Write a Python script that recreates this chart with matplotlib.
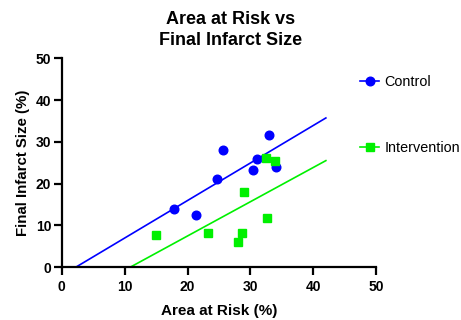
import numpy as np
import matplotlib
matplotlib.use("Agg")
import matplotlib.pyplot as plt
from matplotlib.lines import Line2D

plt.rcParams['font.family'] = ['Liberation Sans', 'DejaVu Sans']

title = "Area at Risk vs\nFinal Infarct Size"
xlabel = "Area at Risk (%)"
ylabel = "Final Infarct Size (%)"
xticks = [0, 10, 20, 30, 40, 50]
yticks = [0, 10, 20, 30, 40, 50]

control_x = [17.9, 21.4, 24.7, 25.7, 30.4, 31.1, 33.0, 34.1]
control_y = [14.0, 12.4, 21.0, 28.0, 23.2, 25.8, 31.7, 23.9]
interv_x = [15.0, 23.3, 28.0, 28.7, 29.0, 32.5, 32.7, 33.9]
interv_y = [7.7, 8.2, 6.0, 8.2, 18.0, 26.2, 11.7, 25.5]
fit_xmax = 42.0

blue = '#0000ff'
green = '#00f000'

fig = plt.figure(figsize=(4.61, 3.2), dpi=100)
ax = fig.add_axes([0.134, 0.165, 0.682, 0.653])

def fit_line(x, y, color):
    slope, intercept = np.polyfit(x, y, 1)
    x0 = -intercept / slope
    xs = np.array([x0, fit_xmax])
    ax.plot(xs, slope * xs + intercept, color=color, lw=1.2, zorder=2)

fit_line(control_x, control_y, blue)
fit_line(interv_x, interv_y, green)

ax.plot(control_x, control_y, 'o', color=blue, ms=6.2, zorder=3, clip_on=False)
ax.plot(interv_x, interv_y, 's', color=green, ms=5.8, zorder=3, clip_on=False)

ax.set_xlim(0, 50)
ax.set_ylim(0, 50)
ax.set_xticks(xticks)
ax.set_yticks(yticks)
for s in ['top', 'right']:
    ax.spines[s].set_visible(False)
for s in ['left', 'bottom']:
    ax.spines[s].set_linewidth(1.6)
ax.tick_params(axis='x', width=1.6, length=5.5, labelsize=10, pad=4)
ax.tick_params(axis='y', width=1.6, length=6, labelsize=10, pad=1.5)
for lbl in ax.get_xticklabels() + ax.get_yticklabels():
    lbl.set_fontweight('bold')
ax.set_xlabel(xlabel, fontsize=11, fontweight='bold', labelpad=7)
ax.set_ylabel(ylabel, fontsize=10.8, fontweight='bold', labelpad=4)
fig.suptitle(title, fontsize=13, fontweight='bold', y=0.965, linespacing=1.3)

handles = [Line2D([], [], color=blue, marker='o', ms=6.2, lw=1.2),
           Line2D([], [], color=green, marker='s', ms=5.8, lw=1.2)]
fig.legend(handles, ['Control', 'Intervention'], loc='upper left',
           bbox_to_anchor=(0.753, 0.805), frameon=False, fontsize=10.4,
           handlelength=1.3, handletextpad=0.4, labelspacing=3.6)

fig.savefig('out.png', dpi=100)
